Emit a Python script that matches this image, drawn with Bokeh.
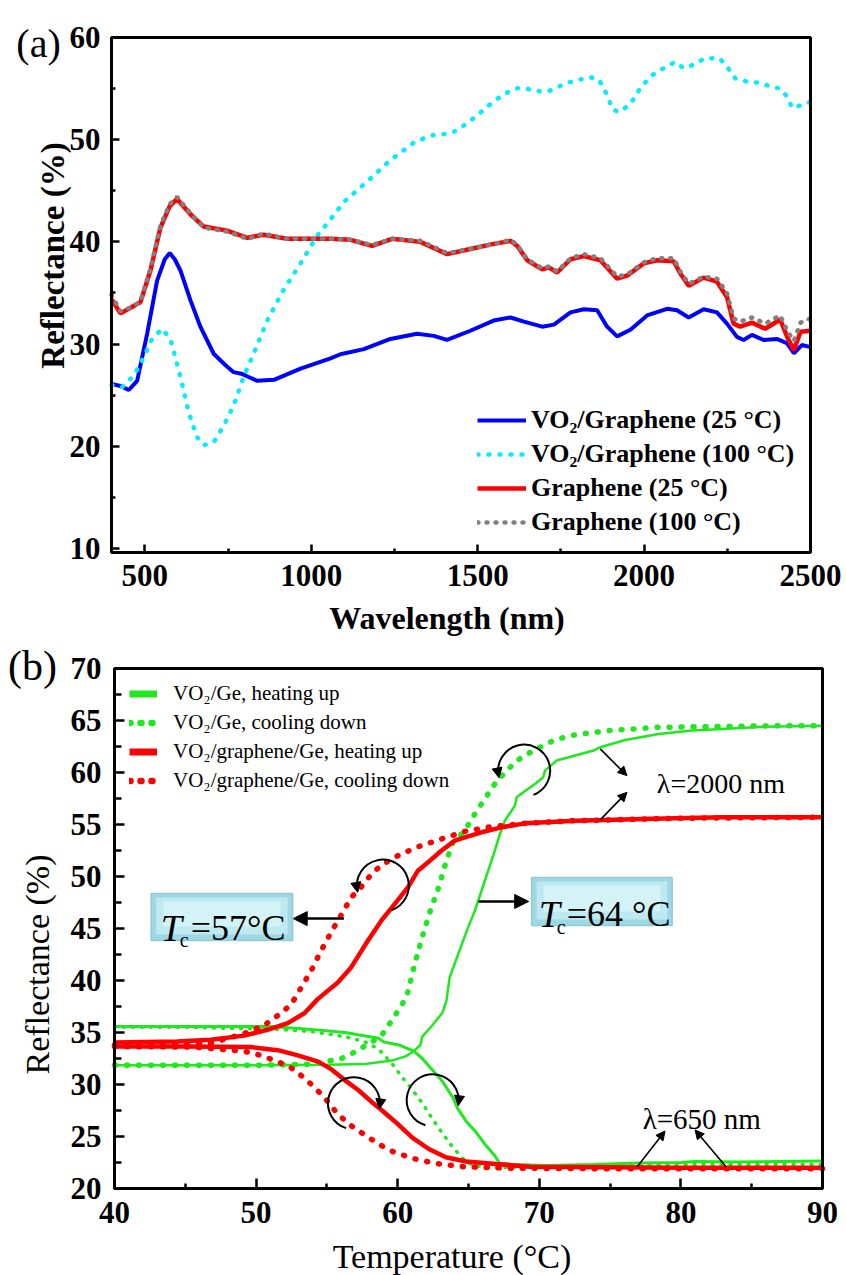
import math
from bokeh.plotting import figure
from bokeh.layouts import column
from bokeh.models import (Label, Legend, LegendItem, Arrow, NormalHead,
                          FixedTicker, BoxAnnotation, LinearAxis)
from bokeh.embed import file_html
from bokeh.resources import INLINE

FONT = "Liberation Serif"
NAN = float("nan")

# ---------------- Panel (a): reflectance spectra ----------------
wl_vo2_25 = [400, 427, 452, 477, 507, 537, 560, 575, 590, 607,
             637, 667, 707, 740, 767, 790, 810, 838, 888, 968,
             1058, 1088, 1158, 1238, 1318, 1368, 1408, 1478, 1548, 1599,
             1639, 1694, 1729, 1779, 1819, 1859, 1889, 1919, 1959, 2009,
             2069, 2099, 2134, 2179, 2219, 2249, 2279, 2299, 2324, 2359,
             2399, 2429, 2450, 2474, 2500]
r_vo2_25 = [26.1, 25.9, 25.5, 26.4, 31.0, 36.2, 38.3, 38.9, 38.3, 37.2,
            34.3, 31.7, 29.05, 28.0, 27.25, 27.1, 26.8, 26.4, 26.5, 27.6,
            28.6, 29.0, 29.5, 30.5, 31.0, 30.8, 30.4, 31.3, 32.3, 32.6,
            32.2, 31.7, 31.9, 33.1, 33.4, 33.3, 31.7, 30.75, 31.4, 32.8,
            33.45, 33.3, 32.6, 33.4, 33.1, 32.0, 30.7, 30.4, 30.9, 30.4,
            30.5, 30.1, 29.1, 29.9, 29.7]

wl_vo2_100 = [400, 432, 467, 497, 522, 552, 577, 607, 632, 657,
              677, 707, 737, 767, 797, 827, 868, 913, 968, 1018,
              1058, 1098, 1168, 1238, 1308, 1358, 1413, 1438, 1488, 1554,
              1604, 1629, 1684, 1714, 1764, 1794, 1839, 1864, 1879, 1894,
              1904, 1924, 1954, 1974, 1989, 2024, 2069, 2094, 2119, 2154,
              2179, 2224, 2244, 2274, 2319, 2344, 2380, 2410, 2430, 2445,
              2470, 2500]
r_vo2_100 = [26.0, 25.8, 26.9, 28.7, 30.5, 31.5, 30.5, 26.8, 23.3, 20.9,
             20.1, 20.4, 22.0, 24.0, 26.8, 29.05, 32.3, 35.1, 37.9, 40.6,
             42.2, 43.9, 45.9, 48.0, 49.7, 50.4, 50.6, 50.9, 52.1, 53.9,
             54.9, 55.1, 54.75, 54.75, 55.5, 55.8, 56.1, 55.9, 55.0, 54.0,
             53.0, 52.7, 53.35, 54.2, 55.1, 56.3, 57.2, 57.6, 57.0, 57.4,
             57.9, 58.0, 57.4, 56.0, 55.6, 55.6, 55.2, 55.0, 54.2, 53.1,
             53.35, 53.7]

wl_gr = [400, 427, 460, 487, 517, 547, 575, 597, 637, 677,
         747, 808, 857, 928, 1058, 1118, 1183, 1243, 1328, 1408,
         1478, 1548, 1599, 1619, 1649, 1694, 1714, 1739, 1779, 1819,
         1869, 1919, 1949, 1999, 2039, 2089, 2109, 2134, 2179, 2219,
         2249, 2269, 2289, 2324, 2364, 2409, 2430, 2450, 2470, 2500]
r_gr_25 = [34.4, 33.0, 33.6, 34.1, 37.2, 41.4, 43.5, 44.2, 42.7, 41.5,
           41.1, 40.4, 40.7, 40.3, 40.3, 40.2, 39.6, 40.3, 40.0, 38.8,
           39.3, 39.8, 40.1, 39.6, 38.2, 37.3, 37.5, 37.0, 38.3, 38.6,
           38.2, 36.4, 36.7, 37.9, 38.2, 38.1, 36.9, 35.7, 36.5, 36.1,
           34.6, 32.0, 31.7, 32.1, 31.5, 32.4, 30.7, 29.4, 31.2, 31.3]
r_gr_100 = [34.8, 33.2, 33.6, 34.2, 37.4, 41.6, 43.7, 44.4, 42.8, 41.4,
            41.0, 40.3, 40.8, 40.3, 40.3, 40.2, 39.7, 40.3, 40.1, 38.9,
            39.3, 39.8, 40.2, 39.7, 38.3, 37.4, 37.6, 37.1, 38.4, 38.8,
            38.4, 36.6, 36.8, 38.0, 38.4, 38.4, 37.1, 35.9, 36.6, 36.4,
            35.0, 32.5, 32.2, 32.6, 32.0, 32.8, 31.3, 30.3, 32.1, 32.5]

a_xlim = (400, 2500)
a_ylim = (9.6, 60)
a_xticks = [500, 1000, 1500, 2000, 2500]
a_xminor = [750, 1250, 1750, 2250]
a_yticks = [10, 20, 30, 40, 50, 60]
a_yminor = [15, 25, 35, 45, 55]
a_labels = ["VO\u2082/Graphene (25 \u00b0C)", "VO\u2082/Graphene (100 \u00b0C)",
            "Graphene (25 \u00b0C)", "Graphene (100 \u00b0C)"]

# ---------------- Panel (b): hysteresis loops ----------------
# VO2/Ge heating, lambda = 2000 nm
t_gh_2000 = [40, 45, 50, 55, 57.7, 59.6, 60.55, 61.14, 61.6, 61.74,
             62.45, 63.16, 63.44, 63.67, 64.27, 64.97, 65.45, 65.92, 66.39, 66.86,
             67.22, 67.57, 68.28, 68.4, 68.87, 69.69, 70.28, 70.4, 71.23, 72.53,
             73.83, 74.3, 76.07, 78.43, 80.79, 82.9, 86, 90]
r_gh_2000 = [31.85, 31.85, 31.85, 31.9, 31.97, 32.3, 32.7, 33.2, 33.8, 34.6,
             35.7, 36.9, 38.05, 40.29, 42.54, 45.11, 46.71, 48.63, 50.56, 52.48,
             54.09, 55.37, 56.81, 57.62, 58.1, 58.9, 59.54, 60.18, 61.15, 61.63,
             62.11, 62.43, 63.13, 63.71, 64.03, 64.19, 64.4, 64.5]
# VO2/Ge heating, lambda = 650 nm
t_gh_650 = [40, 45, 51.05, 53.9, 56.28, 58.65, 59.0, 60.08, 61.14, 61.74,
            62.45, 63.16, 63.87, 64.23, 64.82, 65.54, 66.25, 66.84, 67.2, 68.15,
            70.52, 73.85, 77, 80, 81, 84, 87, 90]
r_gh_650 = [35.58, 35.58, 35.58, 35.3, 35.0, 34.45, 34.1, 33.8, 33.2, 32.5,
            31.4, 30.3, 28.8, 27.7, 26.5, 25.4, 24.1, 23.2, 22.4, 22.3,
            22.2, 22.3, 22.45, 22.5, 22.6, 22.55, 22.6, 22.65]
# VO2/Ge cooling, lambda = 2000 nm
t_gc_2000 = [40, 45, 50, 54.0, 54.85, 55.8, 56.4, 57.2, 57.8, 58.4,
             58.9, 59.36, 59.84, 60.31, 60.65, 61.2, 61.79, 62.38, 62.85, 63.44,
             63.91, 64.74, 65.45, 66.15, 66.86, 67.8, 68.75, 69.81, 70.99, 72.17,
             74.89, 78.43, 82.9, 86, 90]
r_gc_2000 = [31.85, 31.85, 31.85, 31.95, 32.2, 32.4, 32.7, 33.3, 33.8, 34.3,
             34.8, 35.7, 36.7, 37.7, 38.53, 41.58, 44.46, 47.03, 48.79, 51.52,
             53.29, 54.41, 56.01, 57.46, 58.9, 60.34, 61.47, 62.27, 63.07, 63.55,
             64.03, 64.35, 64.42, 64.48, 64.5]
# VO2/Ge cooling, lambda = 650 nm
t_gc_650 = [40, 45, 51.53, 53.9, 56.28, 57.7, 58.65, 59.13, 59.72, 60.31,
            61.03, 61.74, 62.45, 63.16, 63.87, 64.59, 65.3, 66.96, 70, 75,
            80, 85, 90]
r_gc_650 = [35.5, 35.5, 35.3, 35.1, 34.6, 34.1, 33.4, 32.7, 31.8, 30.7,
            29.5, 28.2, 26.7, 25.3, 24.0, 22.9, 22.2, 22.0, 22.1, 22.2,
            22.3, 22.3, 22.3]
# VO2/graphene/Ge heating, lambda = 2000 nm
t_rh_2000 = [40, 44.4, 46.78, 49.15, 50.8, 52.24, 53.43, 54.35, 55.77, 56.71,
             57.89, 58.84, 59.78, 60.72, 61.43, 62.14, 63.08, 64.03, 64.74, 65.92,
             67.33, 68.99, 72.53, 78, 82.92, 90]
r_rh_2000 = [34.03, 34.13, 34.3, 34.7, 35.26, 35.9, 36.87, 38.21, 39.81, 41.26,
             43.82, 45.75, 47.35, 48.96, 50.56, 51.36, 52.48, 53.45, 53.77, 54.25,
             54.73, 55.11, 55.37, 55.55, 55.7, 55.7]
# VO2/graphene/Ge heating, lambda = 650 nm
t_rh_650 = [40, 45, 49.63, 51.53, 52.95, 54.38, 55.33, 56.28, 57.23, 58.18,
            58.9, 59.84, 61.03, 62.2, 63.4, 64.82, 66.96, 69.34, 75, 80,
            85, 90]
r_rh_650 = [33.65, 33.65, 33.6, 33.3, 32.8, 32.2, 31.45, 30.4, 29.45, 28.3,
            27.5, 26.4, 24.9, 23.8, 23.0, 22.6, 22.35, 22.1, 22.05, 22.0,
            22.0, 22.0]
# VO2/graphene/Ge cooling, lambda = 2000 nm
t_rc_2000 = [40, 45, 46.78, 49.15, 50.58, 51.77, 52.48, 53.05, 53.88, 54.59,
             55.29, 56.12, 56.71, 57.3, 58.24, 59.07, 60.02, 61.31, 63.08, 64.74,
             66.63, 68.99, 72.53, 80, 90]
r_rc_2000 = [33.8, 33.85, 33.97, 34.9, 35.7, 36.87, 37.7, 39.01, 40.93, 42.86,
             44.62, 46.55, 47.99, 48.79, 50.4, 51.27, 52.0, 52.8, 53.61, 54.34,
             54.79, 55.11, 55.37, 55.6, 55.7]
# VO2/graphene/Ge cooling, lambda = 650 nm
t_rc_650 = [40, 45.6, 49.15, 50.34, 51.53, 52.48, 53.43, 54.14, 54.85, 55.8,
            56.75, 57.94, 59.36, 61.03, 62.69, 64.59, 68, 75, 82, 90]
r_rc_650 = [33.65, 33.6, 33.2, 32.8, 32.2, 31.6, 30.6, 29.7, 28.7, 27.1,
            26.0, 24.9, 23.7, 22.9, 22.4, 22.1, 21.95, 21.9, 21.9, 21.9]

b_xlim = (40, 90)
b_ylim = (20, 70)
b_xticks = [40, 50, 60, 70, 80, 90]
b_xminor = [45, 55, 65, 75, 85]
b_yticks = [20, 25, 30, 35, 40, 45, 50, 55, 60, 65, 70]
b_yminor = [22.5, 27.5, 32.5, 37.5, 42.5, 47.5, 52.5, 57.5, 62.5, 67.5]
b_labels = ["VO\u2082/Ge, heating up", "VO\u2082/Ge, cooling down",
            "VO\u2082/graphene/Ge, heating up", "VO\u2082/graphene/Ge, cooling down"]

BLUE, CYAN, RED, GRAY, GREEN = "#0000ff", "#00eeff", "#ff0000", "#808080", "#1fe81f"


def panel(w, h, xlim, ylim, box_l, box_r, box_t, box_b,
          xticks, xminor, yticks, yminor, xt_in, xm_in, yt_in, ym_in, xs, ys):
    """Figure whose frame fills the canvas; the plot box is drawn with
    fixed-location axes bounded to the data limits (box given in canvas px)."""
    kx = (xlim[1] - xlim[0]) / (box_r - box_l)
    ky = (ylim[1] - ylim[0]) / (box_b - box_t)
    xr = (xlim[0] - box_l * kx, xlim[1] + (w - box_r) * kx)
    yr = (ylim[0] - (h - box_b) * ky, ylim[1] + box_t * ky)
    p = figure(width=w, height=h, x_range=xr, y_range=yr, title=None,
               output_backend="svg", toolbar_location=None,
               x_axis_location=None, y_axis_location=None,
               min_border=0, min_border_left=0, min_border_right=0,
               min_border_top=0, min_border_bottom=0)
    p.xgrid.visible = False
    p.ygrid.visible = False
    p.outline_line_color = None
    p.background_fill_color = "white"
    p.border_fill_color = "white"

    def axis(loc, bounds, ticks, minor, t_in, m_in, standoff):
        return LinearAxis(fixed_location=loc, bounds=bounds,
                          ticker=FixedTicker(ticks=ticks, minor_ticks=minor),
                          axis_line_width=3, axis_line_color="black",
                          major_tick_in=t_in, major_tick_out=0,
                          minor_tick_in=m_in, minor_tick_out=0,
                          major_tick_line_width=2.5, minor_tick_line_width=2.5,
                          major_tick_line_color="black", minor_tick_line_color="black",
                          major_label_standoff=standoff, major_label_text_font=FONT,
                          major_label_text_font_style="bold",
                          major_label_text_font_size="31px",
                          major_label_text_color="black")
    p.add_layout(BoxAnnotation(left=xlim[0], right=xlim[1], bottom=ylim[0], top=ylim[1],
                               fill_alpha=0, line_color="black", line_alpha=1.0,
                               line_width=3))
    p.add_layout(axis(ylim[0], xlim, xticks, xminor, xt_in, xm_in, xs), "below")
    p.add_layout(axis(xlim[0], ylim, yticks, yminor, yt_in, ym_in, ys), "left")
    return p


def text(p, x, y, s, size, style="normal", angle=0.0, align="center", baseline="middle"):
    p.add_layout(Label(x=x, y=y, text=s, angle=angle, text_align=align,
                       text_baseline=baseline, text_font=FONT, text_font_size=size,
                       text_font_style=style, text_color="black"))


# ======================= Panel (a) =======================
pa = panel(846, 640, a_xlim, a_ylim, 111, 810, 37, 552,
           a_xticks, a_xminor, a_yticks, a_yminor, 8, 4, 8, 4, 12, 11)

ra1 = pa.line(wl_vo2_25, r_vo2_25, line_color=BLUE, line_width=4)
ra2 = pa.line(wl_vo2_100, r_vo2_100, line_color=CYAN, line_width=4.5,
              line_dash="1 10", line_cap="round")
ra3 = pa.line(wl_gr, r_gr_25, line_color=RED, line_width=4.5)
ra4 = pa.line(wl_gr, r_gr_100, line_color=GRAY, line_width=4.5,
              line_dash="1 8", line_cap="round")

leg_a = Legend(items=[LegendItem(label=a_labels[0], renderers=[ra1]),
                      LegendItem(label=a_labels[1], renderers=[ra2]),
                      LegendItem(label=a_labels[2], renderers=[ra3]),
                      LegendItem(label=a_labels[3], renderers=[ra4])],
               location=(477, 103), glyph_width=49, glyph_height=30,
               label_height=30, label_standoff=5, spacing=4, padding=0, margin=0,
               border_line_alpha=0, background_fill_alpha=0,
               label_text_font=FONT, label_text_font_size="26px",
               label_text_font_style="bold", label_text_color="black")
pa.add_layout(leg_a)

text(pa, 180.7, 59.364, "(a)", "40px")
text(pa, 225.75, 38.665, "Reflectance (%)", "33px", "bold", math.pi / 2)
text(pa, 1407.9, 3.238, "Wavelength (nm)", "32px", "bold")

# ======================= Panel (b) =======================
pb = panel(846, 635, b_xlim, b_ylim, 114, 822, 28, 548,
           b_xticks, b_xminor, b_yticks, b_yminor, 10, 5, 10, 7, 13, 13)

pb.line(t_gh_650, r_gh_650, line_color=GREEN, line_width=3)
pb.line(t_gc_650, r_gc_650, line_color=GREEN, line_width=3.5, line_dash="1 8", line_cap="round")
pb.line(t_gh_2000, r_gh_2000, line_color=GREEN, line_width=2.5)
pb.line(t_gc_2000, r_gc_2000, line_color=GREEN, line_width=5.5, line_dash="1 11", line_cap="round")
pb.line(t_rh_650, r_rh_650, line_color=RED, line_width=4.5)
pb.line(t_rc_650, r_rc_650, line_color=RED, line_width=5.5, line_dash="1 11", line_cap="round")
pb.line(t_rh_2000, r_rh_2000, line_color=RED, line_width=4.5)
pb.line(t_rc_2000, r_rc_2000, line_color=RED, line_width=5.5, line_dash="1 11", line_cap="round")

# legend swatches (invisible NaN lines carrying the legend styling)
lg1 = pb.line([NAN], [NAN], line_color=GREEN, line_width=7)
lg2 = pb.line([NAN], [NAN], line_color=GREEN, line_width=6.5, line_dash="1 10", line_cap="round")
lg3 = pb.line([NAN], [NAN], line_color=RED, line_width=7)
lg4 = pb.line([NAN], [NAN], line_color=RED, line_width=6.5, line_dash="1 10", line_cap="round")
leg_b = Legend(items=[LegendItem(label=b_labels[0], renderers=[lg1]),
                      LegendItem(label=b_labels[1], renderers=[lg2]),
                      LegendItem(label=b_labels[2], renderers=[lg3]),
                      LegendItem(label=b_labels[3], renderers=[lg4])],
               location=(129, 482), glyph_width=28, glyph_height=25,
               label_height=25, label_standoff=16, spacing=4, padding=0, margin=0,
               border_line_alpha=0, background_fill_alpha=0,
               label_text_font=FONT, label_text_font_size="21px",
               label_text_font_style="normal", label_text_color="black")
pb.add_layout(leg_b)

# --- annotation geometry (panel b) ---
PXX = 708 / 50.0   # screen px per degC
PXY = 520 / 50.0   # screen px per % reflectance


def curl(p, xc, yc, a0, a1, direction, r=26):
    p.arc(x=[xc], y=[yc], radius=r, radius_units="screen",
          start_angle=math.radians(a0), end_angle=math.radians(a1),
          direction=direction, line_color="black", line_width=2)
    t = math.radians(a1)
    xe = xc + r * math.cos(t) / PXX
    ye = yc + r * math.sin(t) / PXY
    if direction == "anticlock":
        tx, ty = -math.sin(t), math.cos(t)
    else:
        tx, ty = math.sin(t), -math.cos(t)
    p.add_layout(Arrow(end=NormalHead(size=10, fill_color="black", line_color="black"),
                       x_start=xe - 3 * tx / PXX, y_start=ye - 3 * ty / PXY,
                       x_end=xe + 2 * tx / PXX, y_end=ye + 2 * ty / PXY,
                       line_color="black", line_width=2))


curl(pb, 58.95, 49.12, -71, 190.5, "anticlock")
curl(pb, 68.93, 60.18, -69, 191.7, "anticlock")
curl(pb, 56.91, 28.19, 252.4, -8, "clock")
curl(pb, 62.47, 28.48, 253.7, -7.6, "clock")


def arrow(p, x0, y0, x1, y1, lw, hs):
    p.add_layout(Arrow(end=NormalHead(size=hs, fill_color="black", line_color="black"),
                       x_start=x0, y_start=y0, x_end=x1, y_end=y1,
                       line_color="black", line_width=lw))


arrow(pb, 56.2, 45.95, 52.62, 45.95, 2.5, 14)
arrow(pb, 65.7, 47.6, 69.25, 47.6, 2.5, 14)
arrow(pb, 74.3, 62.27, 76.19, 59.7, 1.6, 9)
arrow(pb, 74.3, 55.44, 76.19, 58.09, 1.6, 9)
arrow(pb, 76.9, 22.07, 78.88, 25.53, 1.6, 9)
arrow(pb, 83.2, 22.07, 81.0, 25.63, 1.6, 9)


def tc_box(p, l, r, b, t, num_text, xT, yB, xc, yc, xn):
    p.add_layout(BoxAnnotation(left=l, right=r, bottom=b, top=t, fill_color="#9fd8e3",
                               fill_alpha=1.0, line_color="#8fcad7", line_alpha=1.0,
                               line_width=1.5))
    p.add_layout(BoxAnnotation(left=l + 5 / PXX, right=r - 5 / PXX, bottom=b + 6 / PXY,
                               top=t - 4 / PXY, fill_color="#bfe9f1", fill_alpha=1.0,
                               line_alpha=0))
    p.add_layout(BoxAnnotation(left=l + 12 / PXX, right=r - 12 / PXX, bottom=b + 14 / PXY,
                               top=t - 8 / PXY, fill_color="#d3f3f7", fill_alpha=1.0,
                               line_alpha=0))
    text(p, xT, yB, "T", "38px", "italic", align="left", baseline="alphabetic")
    text(p, xc, yc, "c", "20px", align="left", baseline="alphabetic")
    text(p, xn, yB, num_text, "36px", align="left", baseline="alphabetic")


tc_box(pb, 42.59, 52.58, 43.85, 48.37, "=57\u00b0C", 43.26, 45.07, 44.6, 43.92, 45.38)
tc_box(pb, 69.46, 79.38, 45.29, 49.91, "=64 \u00b0C", 69.96, 46.42, 71.23, 45.17, 71.94)

text(pb, 78.3, 58.93, "\u03bb=2000 nm", "28px", align="left")
text(pb, 77.3, 26.69, "\u03bb=650 nm", "29px", align="left")

text(pb, 34.209, 70.288, "(b)", "42px")
text(pb, 34.562, 41.538, "Reflectance (%)", "34px", "normal", math.pi / 2)
text(pb, 63.835, 13.462, "Temperature (\u00b0C)", "34px", "normal")

layout = column(pa, pb, spacing=0)
open("out.html", "w").write(file_html(layout, INLINE))
